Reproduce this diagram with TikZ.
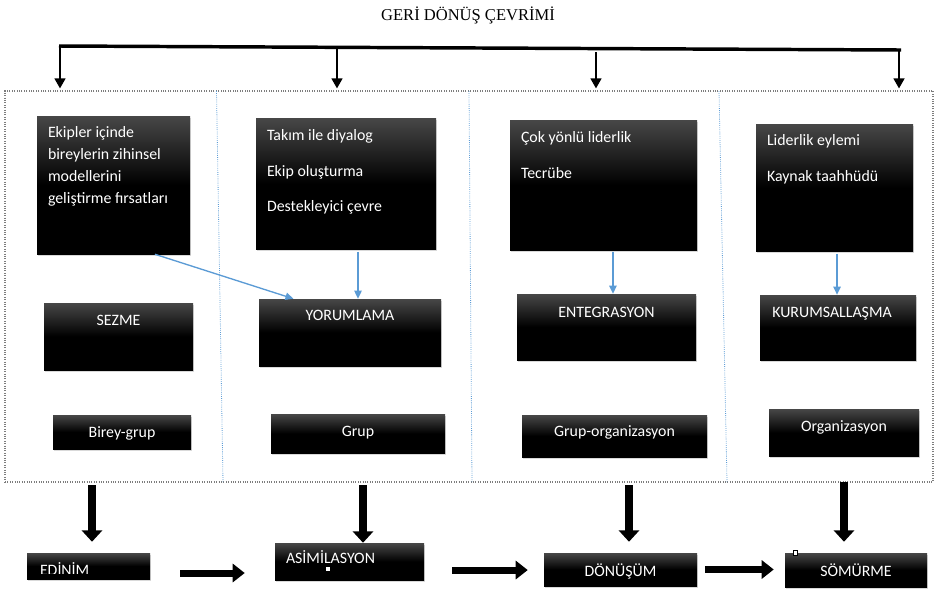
\documentclass[tikz,border=0pt]{standalone}
\usepackage{fontspec}
\usetikzlibrary{arrows.meta,positioning,fit,calc,shadows}
\newfontfamily\boxfont{Carlito}
\newfontfamily\titlefont{Liberation Serif}
\definecolor{cycleBlue}{RGB}{91,155,213}
\definecolor{frameGray}{RGB}{125,125,125}
\newcommand{\cyctxt}{\boxfont\fontsize{11.9}{16.5}\selectfont}

\begin{document}
\begin{tikzpicture}[x=0.75pt, y=-0.75pt,
    panel/.style={inner sep=0pt, top color=black!72, bottom color=black, middle color=black,
                  drop shadow={shadow xshift=0.8pt, shadow yshift=-1.8pt, opacity=0.3}},
    wtext/.style={text=white, font=\cyctxt, inner sep=0pt, align=left},
    widelines/.style={font=\boxfont\fontsize{11.9}{26.5}\selectfont},
    feedback/.style={line width=1.6pt, -{Triangle[width=8pt,length=7.5pt]}},
    link/.style={draw=cycleBlue, line width=1pt, -{Triangle[width=5.5pt,length=6pt]}, fill=cycleBlue},
    stagedown/.style={line width=6pt, -{Triangle[width=15pt,length=8.5pt]}},
    stageright/.style={line width=5.25pt, -{Triangle[width=13.5pt,length=9pt]}},
    divider/.style={draw=cycleBlue, densely dotted, line width=0.6pt}
  ]
  \useasboundingbox (0,0) rectangle (941,590);

  \node[font=\titlefont\fontsize{12.4}{15}\selectfont, anchor=base] (title) at (468,20) {GERİ DÖNÜŞ ÇEVRİMİ};

  % feedback bar
  \coordinate (barL) at (59,46);
  \coordinate (barR) at (901,50);
  \draw[line width=2.6pt] (barL) -- (barR);

  \node[draw=frameGray, densely dotted, line width=0.8pt, inner sep=0pt, fit={(5,91) (933,482)}] (frame) {};
  \draw[divider] (216.5,91) -- (223,482);
  \draw[divider] (469,91) -- (472,482);
  \draw[divider] (719,91) -- (727,482);

  \coordinate (f1) at (60,46.5);
  \coordinate (f2) at (337,47.5);
  \coordinate (f3) at (596,52);
  \coordinate (f4) at (899,49.5);
  \foreach \f in {f1,f2,f3,f4}
    \draw[feedback, shorten >=1.5pt] (\f) -- (\f |- frame.north);

  % factor boxes
  \node[panel, fit={(37,116) (190,254)}] (k1) {};
  \node[panel, fit={(256,118) (436,249)}] (k2) {};
  \node[panel, fit={(510,120) (697,250)}] (k3) {};
  \node[panel, fit={(756,124) (913,251)}] (k4) {};
  \node[wtext, anchor=north west] (k1t) at ([xshift=8.25pt,yshift=-7.5pt]k1.north west)
    {Ekipler içinde\\bireylerin zihinsel\\modellerini\\geliştirme fırsatları};
  \node[wtext, widelines, anchor=north west] (k2t) at ([xshift=8.25pt,yshift=-8.8pt]k2.north west)
    {Takım ile diyalog\\Ekip oluşturma\\Destekleyici çevre};
  \node[wtext, widelines, anchor=north west] (k3t) at ([xshift=8.25pt,yshift=-8.8pt]k3.north west)
    {Çok yönlü liderlik\\Tecrübe};
  \node[wtext, widelines, anchor=north west] (k4t) at ([xshift=8.25pt,yshift=-8pt]k4.north west)
    {Liderlik eylemi\\Kaynak taahhüdü};

  % process boxes
  \node[panel, fit={(44,303) (193,370)}] (s1) {};
  \node[panel, fit={(259,299) (441,366)}] (y2) {};
  \node[panel, fit={(517,294) (696,360)}] (e3) {};
  \node[panel, fit={(760,295) (916,360)}] (m4) {};
  \node[wtext, anchor=base] (s1t) at ([yshift=-17.25pt]s1.north) {SEZME};
  \node[wtext, anchor=base] (y2t) at ([yshift=-16.3pt]y2.north) {YORUMLAMA};
  \node[wtext, anchor=base] (e3t) at ([yshift=-17.5pt]e3.north) {ENTEGRASYON};
  \node[wtext, anchor=base] (m4t) at ([xshift=-4.5pt,yshift=-16.7pt]m4.north) {KURUMSALLAŞMA};

  % level boxes
  \node[panel, fit={(53,415) (191,449)}] (g1) {};
  \node[panel, fit={(271,414) (445,453)}] (g2) {};
  \node[panel, fit={(522,415) (707,457)}] (g3) {};
  \node[panel, fit={(769,409) (919,456)}] (g4) {};
  \node[wtext, anchor=base] (g1t) at ([yshift=-4pt]g1.center) {Birey-grup};
  \node[wtext, anchor=base] (g2t) at ([yshift=-1.9pt]g2.center) {Grup};
  \node[wtext, anchor=base] (g3t) at ([yshift=-0.5pt]g3.center) {Grup-organizasyon};
  \node[wtext, anchor=base] (g4t) at ([yshift=0.6pt]g4.center) {Organizasyon};

  \draw[link] ($(k1.south west)!0.77!(k1.south east)$) -- ($(y2.north west)!0.19!(y2.north east)$);
  \draw[link, shorten <=2pt] ([xshift=9pt]k2.south) -- ([xshift=9pt]k2.south |- y2.north);
  \draw[link, shorten <=1pt] ([xshift=7.1pt]k3.south) -- ([xshift=7.1pt]k3.south |- e3.north);
  \draw[link, shorten <=2pt] ([xshift=1.9pt]k4.south) -- ([xshift=1.9pt]k4.south |- m4.north);

  % stages
  \node[panel, fit={(27,553) (150,579)}] (ed) {};
  \node[panel, fit={(275,543) (424,580)}] (as) {};
  \node[panel, fit={(544,553) (697,586)}] (dn) {};
  \node[panel, fit={(785,553) (927,587)}] (sm) {};
  \begin{scope}
    \clip (27,553) rectangle (150,573.3);
    \node[wtext, anchor=base west] (edt) at ([xshift=9.75pt,yshift=3pt]ed.south west) {EDİNİM};
  \end{scope}
  \node[wtext, anchor=base west] (ast) at ([xshift=8.25pt,yshift=-15.75pt]as.north west) {ASİMİLASYON};
  \node[wtext, anchor=base] (dnt) at ([yshift=-4.9pt]dn.center) {DÖNÜŞÜM};
  \node[wtext, anchor=base] (smt) at ([yshift=-4.5pt]sm.center) {SÖMÜRME};
  \fill[white] (325.5,566.5) rectangle (329.5,570.5);
  \draw[fill=white, line width=0.4pt] (793,550) rectangle (797.5,555.5);

  \coordinate (v1) at (92,485);
  \coordinate (v2) at (363,485);
  \coordinate (v3) at (629,485);
  \coordinate (v4) at (844,482);
  \draw[stagedown, shorten >=8.25pt] (v1) -- (v1 |- ed.north);
  \draw[stagedown] (v2) -- (v2 |- as.north);
  \draw[stagedown, shorten >=8.25pt] (v3) -- (v3 |- dn.north);
  \draw[stagedown, shorten >=8.25pt] (v4) -- (v4 |- sm.north);

  \draw[stageright, shorten <=22.5pt, shorten >=22.5pt] ([yshift=-5.25pt]ed.east) -- ([yshift=-5.25pt]ed.east -| as.west);
  \draw[stageright, shorten <=21pt, shorten >=12pt] ([yshift=-6.4pt]as.east) -- ([yshift=-6.4pt]as.east -| dn.west);
  \draw[stageright, shorten <=6pt, shorten >=8.25pt] (dn.east) -- (dn.east -| sm.west);
\end{tikzpicture}
\end{document}
